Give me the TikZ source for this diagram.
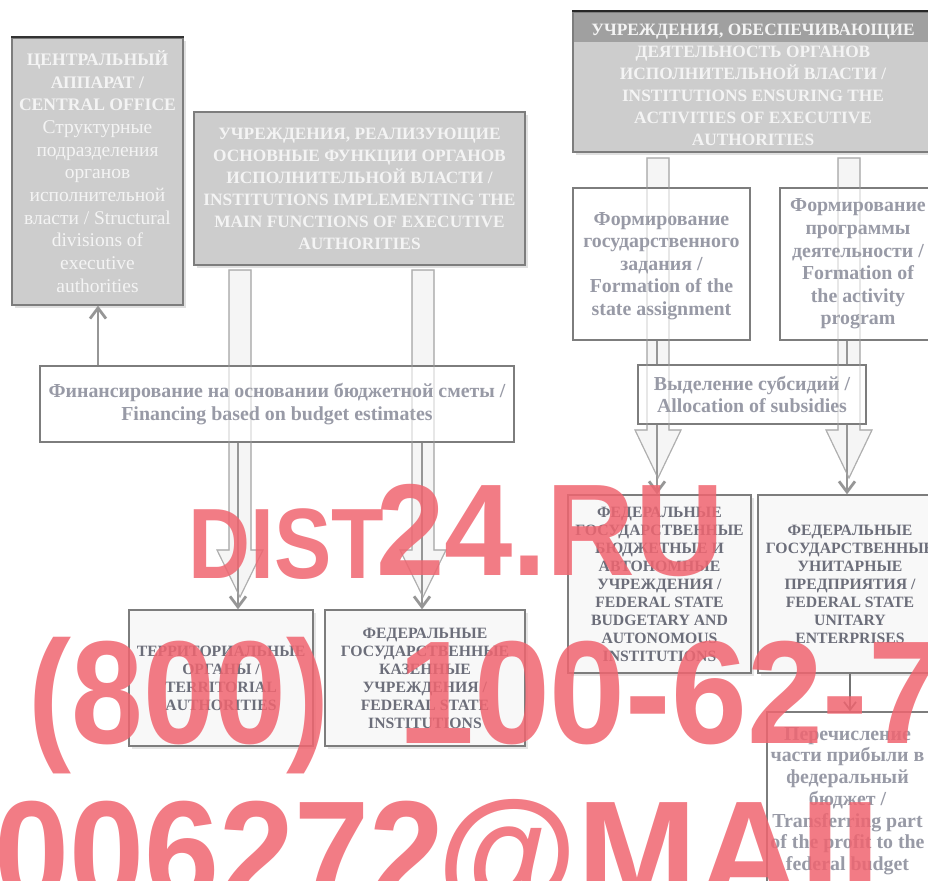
\documentclass[tikz,border=0pt]{standalone}
\usepackage{fontspec}
\setmainfont{Liberation Serif}
\newfontfamily\wmfont{Liberation Sans}
\usetikzlibrary{fit,shadows,arrows.meta}
\definecolor{boxgray}{RGB}{205,205,205}
\definecolor{bandgray}{RGB}{160,160,160}
\definecolor{edgegray}{RGB}{125,125,125}
\definecolor{fedfill}{RGB}{248,248,248}
\definecolor{txtgray}{RGB}{152,154,166}
\definecolor{feddark}{RGB}{108,110,122}
\definecolor{headwhite}{RGB}{244,244,244}
\definecolor{arrgray}{RGB}{150,150,150}
\definecolor{blockedge}{RGB}{175,175,175}
\definecolor{blockfill}{RGB}{245,245,245}
\definecolor{wmred}{RGB}{240,101,112}
\tikzset{
  graybox/.style={draw=edgegray, line width=0.9pt, fill=boxgray, inner sep=0pt,
    drop shadow={shadow xshift=2.5pt, shadow yshift=-2.5pt, fill=black!12, opacity=1}},
  whitebox/.style={draw=edgegray, line width=1pt, fill=white, inner sep=0pt},
  fedbox/.style={draw=edgegray, line width=1pt, fill=fedfill, inner sep=0pt,
    drop shadow={shadow xshift=2.5pt, shadow yshift=-2.5pt, fill=black!10, opacity=1}},
  headtext/.style={text=headwhite, font=\fontsize{13}{16.5}\selectfont\bfseries, align=center},
  centtext/.style={text=headwhite, font=\fontsize{14.6}{17}\selectfont, align=center},
  bodytext/.style={text=txtgray, font=\fontsize{14.9}{16.9}\selectfont\bfseries, align=center},
  fedtext/.style={text=feddark, font=\fontsize{11.8}{13.5}\selectfont\bfseries, align=center},
  thinarr/.style={draw=arrgray, line width=2.1pt, -{Straight Barb[length=8pt,width=12pt]}},
  thinarrdark/.style={draw=black!55, line width=1.3pt, -{Straight Barb[length=6pt,width=9pt]}},
  blockarr/.style={draw=blockedge, line width=0.8pt, fill=blockfill},
  blockline/.style={draw=blockedge, line width=0.8pt, draw opacity=0.45},
  wm/.style={text=wmred, text opacity=0.85, anchor=base west, inner sep=0pt},
}
\begin{document}
\begin{tikzpicture}[x=0.75pt,y=-0.75pt]
\useasboundingbox (0,0) rectangle (928,881);
\clip (0,0) rectangle (928,881);

% block (hollow) arrows, background part
\path[blockarr] (229,270) -- (229,550) -- (217,550) -- (240,597) -- (263,550) -- (251,550) -- (251,270) -- cycle;
\path[blockarr] (412,270) -- (412,550) -- (400,550) -- (423,597) -- (446,550) -- (434,550) -- (434,270) -- cycle;
\path[blockarr] (647,158) -- (647,430) -- (635,430) -- (658,478) -- (681,430) -- (669,430) -- (669,158) -- cycle;
\path[blockarr] (838,158) -- (838,430) -- (826,430) -- (849,478) -- (872,430) -- (860,430) -- (860,158) -- cycle;

% header boxes
\node[graybox, fit={(12,38) (183,305)}] (central) {};
\draw[black!80, line width=1.6pt] (central.north west) -- (central.north east);
\node[centtext] (centraltext) at (central.center)
  {\textbf{\fontsize{13.2}{17}\selectfont ЦЕНТРАЛЬНЫЙ}\\ \textbf{\fontsize{13.2}{17}\selectfont АППАРАТ /}\\ \textbf{\fontsize{13.2}{17}\selectfont CENTRAL OFFICE}\\ Структурные\\ подразделения\\ органов\\ исполнительной\\ власти / Structural\\ divisions of\\ executive\\ authorities};

\node[graybox, fit={(194,112) (525,265)}] (impl) {};
\node[headtext] (impltext) at (impl.center)
  {УЧРЕЖДЕНИЯ, РЕАЛИЗУЮЩИЕ\\ ОСНОВНЫЕ ФУНКЦИИ ОРГАНОВ\\ ИСПОЛНИТЕЛЬНОЙ ВЛАСТИ /\\ INSTITUTIONS IMPLEMENTING THE\\ MAIN FUNCTIONS OF EXECUTIVE\\ AUTHORITIES};

\node[graybox, fit={(573,12) (933,152)},
  path picture={\fill[bandgray] (path picture bounding box.north west) rectangle ([yshift=-22.5pt]path picture bounding box.north east);}] (ensure) {};
\draw[black!85, line width=1.4pt] (ensure.north west) -- (ensure.north east);
\node[headtext] (ensuretext) at ([yshift=-2pt]ensure.center)
  {УЧРЕЖДЕНИЯ, ОБЕСПЕЧИВАЮЩИЕ\\ ДЕЯТЕЛЬНОСТЬ ОРГАНОВ\\ ИСПОЛНИТЕЛЬНОЙ ВЛАСТИ /\\ INSTITUTIONS ENSURING THE\\ ACTIVITIES OF EXECUTIVE\\ AUTHORITIES};

% lower boxes
\node[fedbox, fit={(129,610) (313,746)}] (terr) {};
\node[fedtext] (terrtext) at (terr.center)
  {ТЕРРИТОРИАЛЬНЫЕ\\ ОРГАНЫ /\\ TERRITORIAL\\ AUTHORITIES};
\node[fedbox, fit={(325,610) (525,746)}] (kazen) {};
\node[fedtext] (kazentext) at (kazen.center)
  {ФЕДЕРАЛЬНЫЕ\\ ГОСУДАРСТВЕННЫЕ\\ КАЗЕННЫЕ\\ УЧРЕЖДЕНИЯ /\\ FEDERAL STATE\\ INSTITUTIONS};
\node[fedbox, fit={(568,495) (751,673)}] (budget) {};
\node[fedtext] (budgettext) at (budget.center)
  {ФЕДЕРАЛЬНЫЕ\\ ГОСУДАРСТВЕННЫЕ\\ БЮДЖЕТНЫЕ И\\ АВТОНОМНЫЕ\\ УЧРЕЖДЕНИЯ /\\ FEDERAL STATE\\ BUDGETARY AND\\ AUTONOMOUS\\ INSTITUTIONS};
\node[fedbox, fit={(758,495) (942,673)}] (unitary) {};
\node[fedtext] (unitarytext) at (unitary.center)
  {ФЕДЕРАЛЬНЫЕ\\ ГОСУДАРСТВЕННЫЕ\\ УНИТАРНЫЕ\\ ПРЕДПРИЯТИЯ /\\ FEDERAL STATE\\ UNITARY\\ ENTERPRISES};

% white boxes
\node[whitebox, fit={(573,188) (750,340)}] (form1) {};
\node[bodytext] (form1text) at ([yshift=-1.5pt]form1.center)
  {Формирование\\ государственного\\ задания /\\ Formation of the\\ state assignment};
\node[whitebox, fit={(780,188) (936,340)}] (form2) {};
\node[bodytext] (form2text) at (form2.center)
  {Формирование\\ программы\\ деятельности /\\ Formation of\\ the activity\\ program};

% connectors
\coordinate (xa) at (238,0);
\coordinate (xb) at (422,0);
\coordinate (xc) at (98,0);
\coordinate (xd) at (657,0);
\coordinate (xe) at (847,0);
\coordinate (xf) at (850,0);

\node[whitebox, fit={(40,366) (514,442)}] (fin) {};
\node[bodytext] (fintext) at (fin.center)
  {Финансирование на основании бюджетной сметы /\\ Financing based on budget estimates};

\draw[thinarr] (form1.south -| xd) -- (budget.north -| xd);
\draw[thinarr] (form2.south -| xe) -- (unitary.north -| xe);

\node[whitebox, fit={(638,365) (866,424)}] (subs) {};
\node[bodytext] (substext) at (subs.center)
  {Выделение субсидий /\\ Allocation of subsidies};

\draw[thinarr] (fin.south -| xa) -- (terr.north -| xa);
\draw[thinarr] (fin.south -| xb) -- (kazen.north -| xb);
\draw[thinarr] (fin.north -| xc) -- (central.south -| xc);

\node[whitebox, fit={(767,712) (932,890)}] (transfer) {};
\node[bodytext, font=\fontsize{14.9}{16.3}\selectfont\bfseries] (transfertext) at ([xshift=-1.5pt]transfer.center)
  {Перечисление\\ части прибыли в\\ федеральный\\ бюджет /\\ Transferring part\\ of the profit to the\\ federal budget};
\draw[thinarrdark] (unitary.south -| xf) -- (transfer.north -| xf);

% faint outlines of block arrows over the boxes
\path[blockline] (229,270) -- (229,550) -- (217,550) -- (240,597) -- (263,550) -- (251,550) -- (251,270) -- cycle;
\path[blockline] (412,270) -- (412,550) -- (400,550) -- (423,597) -- (446,550) -- (434,550) -- (434,270) -- cycle;
\path[blockline] (647,158) -- (647,430) -- (635,430) -- (658,478) -- (681,430) -- (669,430) -- (669,158) -- cycle;
\path[blockline] (838,158) -- (838,430) -- (826,430) -- (849,478) -- (872,430) -- (860,430) -- (860,158) -- cycle;

% watermark
\node[wm, font=\wmfont\bfseries\fontsize{75}{75}\selectfont] (wm1) at (188,578) {\scalebox{0.86}[1]{DIST}};
\node[wm, font=\wmfont\bfseries\fontsize{98}{98}\selectfont] (wm2) at (376,575) {\scalebox{0.94}[1]{24.RU}};
\node[wm, font=\wmfont\bfseries\fontsize{110}{110}\selectfont] (wm3) at (28,743) {\scalebox{0.88}[1]{(800)}};
\node[wm, font=\wmfont\bfseries\fontsize{110}{110}\selectfont] (wm3b) at (398,743) {\scalebox{0.93}[1]{100-62-7}};
\node[wm, font=\wmfont\bfseries\fontsize{110}{110}\selectfont] (wm4) at (-6,903) {\scalebox{0.92}[1]{006272}};
\node[wm, font=\wmfont\bfseries\fontsize{110}{110}\selectfont] (wm4b) at (437,903) {\scalebox{0.98}[1]{@MAIL.RU}};
\end{tikzpicture}
\end{document}
